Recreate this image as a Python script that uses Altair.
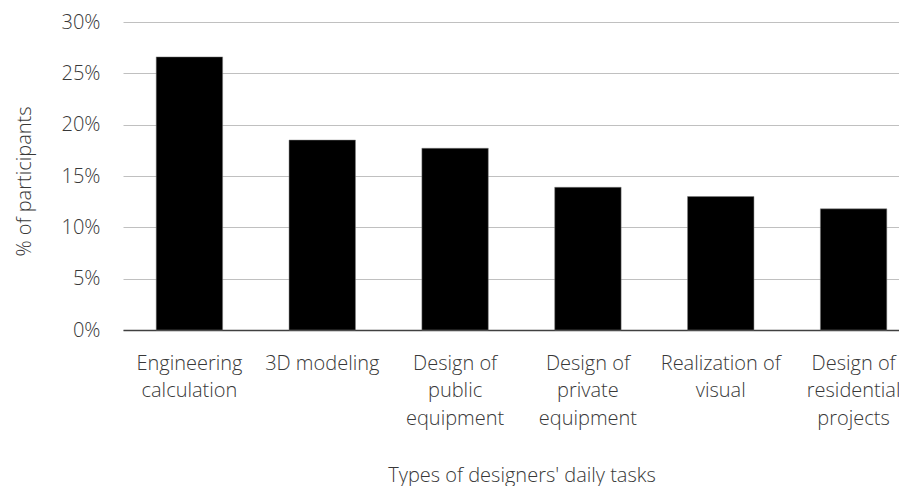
import altair as alt
import pandas as pd

categories = [
    "Engineering\ncalculation",
    "3D modeling",
    "Design of\npublic\nequipment",
    "Design of\nprivate\nequipment",
    "Realization of\nvisual",
    "Design of\nresidential\nprojects",
]
values = [26.6, 18.5, 17.7, 13.9, 13.0, 11.8]
y_ticks = [0, 5, 10, 15, 20, 25, 30]

df = pd.DataFrame({"task": categories, "pct": values})

FONT = "Open Sans"
TXT = "#383838"

chart = (
    alt.Chart(df)
    .mark_bar(color="#000000", stroke="#7f7f7f", strokeWidth=0.5)
    .encode(
        x=alt.X(
            "task:N",
            sort=categories,
            scale=alt.Scale(range=[0, 797], paddingInner=0.5, paddingOuter=0.25),
            axis=alt.Axis(
                title="Types of designers' daily tasks",
                labelAngle=0,
                labelExpr="split(datum.label, '\\n')",
                labelFontSize=20,
                labelLineHeight=27.5,
                labelPadding=23,
                labelBaseline="top",
                ticks=False,
                domainColor="#404040",
                domainWidth=1.5,
                grid=False,
                titlePadding=37,
            ),
        ),
        y=alt.Y(
            "pct:Q",
            scale=alt.Scale(domain=[0, 30], nice=False),
            axis=alt.Axis(
                title="% of participants",
                values=y_ticks,
                labelExpr="datum.value + '%'",
                labelFontSize=20,
                ticks=False,
                domain=False,
                labelPadding=23,
                gridColor="#c0c0c0",
                gridWidth=1,
                titlePadding=27,
                titleY=159,
            ),
        ),
    )
    .properties(
        width=776,
        height=308,
        padding={"left": 115, "top": 14, "right": 0, "bottom": 156},
        autosize=alt.AutoSizeParams(type="none"),
    )
    .configure_view(stroke=None)
    .configure_axis(
        labelFont=FONT,
        titleFont=FONT,
        titleFontSize=20,
        labelColor=TXT,
        titleColor=TXT,
        titleFontWeight=300,
        labelFontWeight=300,
    )
)

chart.save("out.html", embed_options={"renderer": "svg", "actions": False})
